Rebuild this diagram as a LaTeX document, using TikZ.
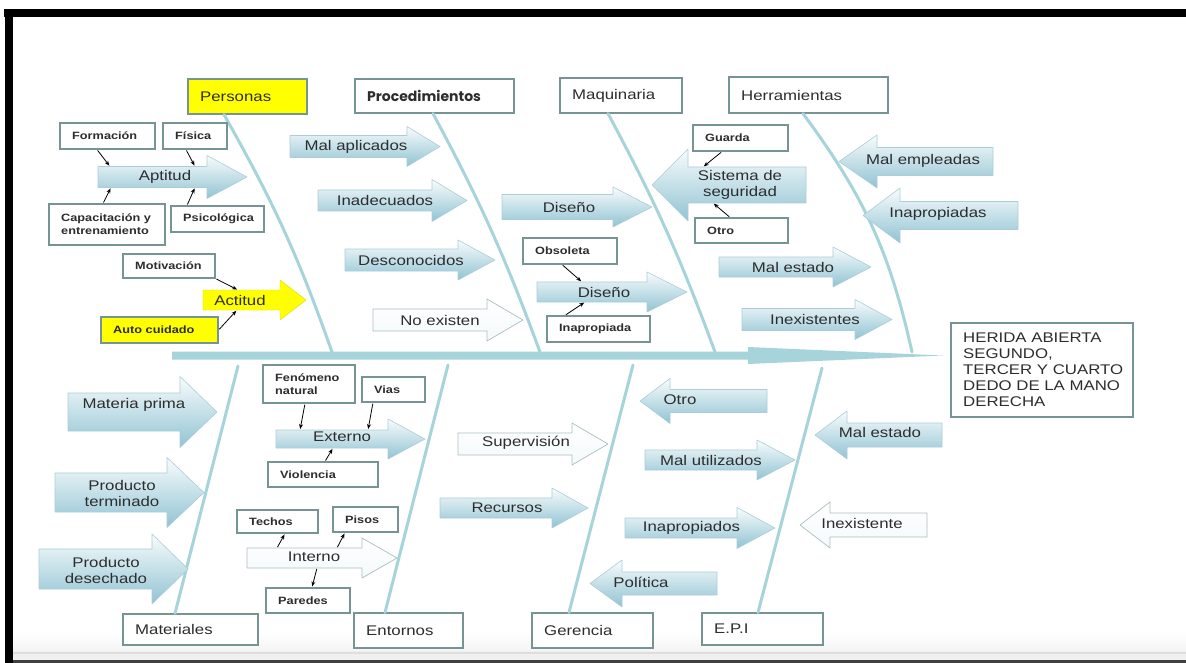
\documentclass[tikz,border=0pt]{standalone}
\usepackage{fontspec}
\setmainfont{Liberation Sans}[FakeStretch=1.2]
\newfontfamily\procfont{Poppins}
\usetikzlibrary{arrows.meta,shadows}

\definecolor{bonecol}{RGB}{166,212,218}
\definecolor{arrtop}{RGB}{248,252,253}
\definecolor{arrbot}{RGB}{145,195,211}
\definecolor{arredge}{RGB}{172,205,214}
\definecolor{boxedge}{RGB}{118,148,148}
\definecolor{txtcol}{RGB}{45,45,45}
\definecolor{hiyellow}{RGB}{255,255,0}

\tikzset{
  boxshape/.style={draw=boxedge, fill=white, line width=1.2pt, inner sep=0pt,
    drop shadow={shadow xshift=1.2pt, shadow yshift=-1.2pt, opacity=.25}},
  yelbox/.style={boxshape, fill=hiyellow},
  shaft/.style={inner sep=0pt, outer sep=0pt},
  blk/.style={top color=arrtop, bottom color=arrbot, draw=arredge, line width=.6pt, line join=round},
  wht/.style={top color=white, bottom color=white!90!arrbot, draw=boxedge!60, line width=.7pt, line join=round},
  yel/.style={fill=hiyellow, draw=hiyellow!85!black, line width=.4pt, line join=round},
  big/.style={font=\fontsize{14}{16}\selectfont, text=txtcol, inner sep=0pt},
  small/.style={font=\fontsize{10.6}{13}\selectfont\bfseries, text=txtcol, inner sep=0pt},
  bone/.style={draw=bonecol, line width=3pt, line cap=round},
  conn/.style={-{Stealth[length=5pt,width=4pt]}, line width=.8pt, draw=black, shorten <=1pt, shorten >=1pt},
}

% block arrow: name, tail x, head base x, tip x, centre y, half shaft, half head
\newcommand\BArrow[8][blk]{%
  \path[#1] (#3,{#6-#7}) -- (#4,{#6-#7}) -- (#4,{#6-#8}) -- (#5,#6) -- (#4,{#6+#8})
     -- (#4,{#6+#7}) -- (#3,{#6+#7}) -- cycle;
  \node[shaft, minimum width={abs(#4-#3)}, minimum height={2*#7}] (#2) at ({(#3+#4)/2},#6) {};
}
% framed box: name, x1, y1, x2, y2, text style, text
\newcommand\TBox[8][boxshape]{%
  \node[#1, minimum width={#5-#3}, minimum height={#6-#4}] (#2) at ({(#3+#5)/2},{(#4+#6)/2}) {};
  \node[#7, align=left, anchor=west] (#2-t) at ({#3+12},{(#4+#6)/2}) {#8};
}

\begin{document}
\begin{tikzpicture}[x=1pt,y=-1pt]
\useasboundingbox (0,0) rectangle (1186,663);
\fill[white] (0,0) rectangle (1186,663);

% window frame
\fill[black] (4,9) rectangle (1186,17);
\fill[black] (5,9) rectangle (13,663);
\shade[top color=white, bottom color=gray!8] (13,632) rectangle (1186,651);
\fill[gray!12] (13,651) rectangle (1186,660);
\fill[gray!26] (13,652) rectangle (1186,654);
\fill[black!75] (13,660) rectangle (1186,663);

% spine
\fill[bonecol] (172,351.5) -- (748,351.5) -- (748,347) -- (943,355.5) -- (748,364)
  -- (748,359.5) -- (172,359.5) -- cycle;
\coordinate (sp1) at (332,352);
\coordinate (sp2) at (540,352);
\coordinate (sp3) at (715,352);
\coordinate (sp4) at (912,352);
\coordinate (sb1) at (238,366);
\coordinate (sb2) at (448,365);
\coordinate (sb3) at (633,365);
\coordinate (sb4) at (822,368);

% category boxes
\TBox[yelbox]{personas}{188}{79}{307}{114}{big}{Personas}
\TBox{procedimientos}{355}{79}{514}{113}{big,font=\procfont\bfseries\fontsize{14}{16}\selectfont}{Procedimientos}
\TBox{maquinaria}{560}{78}{682}{113}{big}{Maquinaria}
\TBox{herramientas}{729}{77}{888}{113}{big}{Herramientas}
\TBox{materiales}{123}{614}{258}{645}{big}{Materiales}
\TBox{entornos}{354}{613}{463}{648}{big}{Entornos}
\TBox{gerencia}{532}{613}{653}{648}{big}{Gerencia}
\TBox{epi}{702}{613}{823}{645}{big}{E.P.I}
\TBox{herida}{951}{323}{1133}{417}{big}{HERIDA ABIERTA\\SEGUNDO,\\TERCER Y CUARTO\\DEDO DE LA MANO\\DERECHA}

% bones
\draw[bone] ([xshift=-23.5pt]personas.south) to[bend left=5] (sp1);
\draw[bone] ([xshift=-1.5pt]procedimientos.south) to[bend left=4] (sp2);
\draw[bone] ([xshift=-13pt]maquinaria.south) to[bend left=4] (sp3);
\draw[bone] ([xshift=-5.5pt]herramientas.south) to[bend left=12] (sp4);
\draw[bone] ([xshift=-15.5pt]materiales.north) -- (sb1);
\draw[bone] ([xshift=-23.5pt]entornos.north) -- (sb2);
\draw[bone] ([xshift=-23.5pt]gerencia.north) -- (sb3);
\draw[bone] ([xshift=-4.5pt]epi.north) -- (sb4);

% block arrows
\BArrow{aptitud}{98}{207}{247}{177}{10.5}{21.5}
\BArrow[yel]{actitud}{203}{280}{306}{300}{10}{20}
\BArrow{malaplicados}{290}{407}{440}{146.5}{11}{20}
\BArrow{inadecuados}{318}{432}{467}{200.5}{10.5}{21}
\BArrow{desconocidos}{345}{458}{495}{260}{11}{20}
\BArrow[wht]{noexisten}{373}{487}{523}{320}{11}{21}
\BArrow{disenoA}{502}{613}{652}{207}{12.5}{20}
\BArrow{disenoB}{537}{647}{687}{292}{10}{20}
\BArrow{sistema}{806}{688}{652}{185}{18}{36}
\BArrow{malestadoA}{719}{833}{871}{267}{10}{20}
\BArrow{inexistentes}{742}{855}{892}{319.5}{11}{20}
\BArrow{malempleadas}{993}{877}{839}{161.5}{14}{26.5}
\BArrow{inapropiadas}{1018}{900}{863}{215.5}{14}{27.5}
\BArrow{materiaprima}{68}{180}{217}{412}{19}{35.5}
\BArrow{prodterminado}{55}{167}{204}{492.5}{19.5}{35}
\BArrow{proddesechado}{39}{152}{188}{569}{20}{35}
\BArrow{externo}{276}{388}{425}{439}{9}{20}
\BArrow[wht]{interno}{247}{362}{397}{558}{10}{20}
\BArrow[wht]{supervision}{458}{572}{608}{444}{11}{21}
\BArrow{recursos}{440}{552}{588}{508}{10}{20}
\BArrow{otroB}{767}{670}{640}{401}{11.5}{22.5}
\BArrow{malutilizados}{645}{757}{795}{460}{10}{20}
\BArrow{inapropiados}{625}{737}{775}{528}{10}{20.5}
\BArrow{politica}{717}{622}{590}{583.5}{11.5}{23.5}
\BArrow{malestadoB}{942}{847}{815}{435}{12}{24}
\BArrow[wht]{inexistente}{927}{830}{800}{525}{12}{23}

% arrow labels
\node[big] (aptitud-t) at (165,177) {Aptitud};
\node[big] (actitud-t) at (240,300) {Actitud};
\node[big] (malaplicados-t) at (356,146.5) {Mal aplicados};
\node[big] (inadecuados-t) at (385,200) {Inadecuados};
\node[big] (desconocidos-t) at (411,260) {Desconocidos};
\node[big] (noexisten-t) at (440,320) {No existen};
\node[big] (disenoA-t) at (569,207) {Diseño};
\node[big] (disenoB-t) at (604,292) {Diseño};
\node[big, align=center] (sistema-t) at (740,185) {Sistema de\\seguridad};
\node[big] (malestadoA-t) at (793,267) {Mal estado};
\node[big] (inexistentes-t) at (815,319) {Inexistentes};
\node[big] (malempleadas-t) at (923,161) {Mal empleadas};
\node[big] (inapropiadas-t) at (938,214) {Inapropiadas};
\node[big] (materiaprima-t) at (134,405) {Materia prima};
\node[big, align=center] (prodterminado-t) at (122,493) {Producto\\terminado};
\node[big, align=center] (proddesechado-t) at (106,570) {Producto\\desechado};
\node[big] (externo-t) at (342,437) {Externo};
\node[big] (interno-t) at (314,557) {Interno};
\node[big] (supervision-t) at (526,443) {Supervisión};
\node[big] (recursos-t) at (507,508) {Recursos};
\node[big] (otroB-t) at (680,400) {Otro};
\node[big] (malutilizados-t) at (711,460) {Mal utilizados};
\node[big] (inapropiados-t) at (691.5,528) {Inapropiados};
\node[big] (politica-t) at (641,582) {Política};
\node[big] (malestadoB-t) at (880,432) {Mal estado};
\node[big] (inexistente-t) at (862,523) {Inexistente};

% sub-cause boxes
\TBox{formacion}{60}{123}{155}{149}{small}{Formación}
\TBox{fisica}{163}{123}{227}{149}{small}{Física}
\TBox{capacitacion}{49}{204}{165}{245}{small}{Capacitación y\\entrenamiento}
\TBox{psicologica}{171}{206}{264}{232}{small}{Psicológica}
\TBox{motivacion}{123}{254}{215}{278}{small}{Motivación}
\TBox[yelbox]{autocuidado}{101}{317}{218}{343}{small}{Auto cuidado}
\TBox{guarda}{693}{125}{788}{151}{small}{Guarda}
\TBox{otroA}{695}{218}{788}{243}{small}{Otro}
\TBox{obsoleta}{523}{238}{617}{264}{small}{Obsoleta}
\TBox{inapropiada}{547}{316}{650}{342}{small}{Inapropiada}
\TBox{fenomeno}{263}{365}{355}{403}{small}{Fenómeno\\natural}
\TBox{vias}{362}{377}{425}{402}{small}{Vias}
\TBox{violencia}{268}{462}{378}{487}{small}{Violencia}
\TBox{techos}{237}{510}{318}{533}{small}{Techos}
\TBox{pisos}{333}{507}{398}{532}{small}{Pisos}
\TBox{paredes}{266}{588}{350}{613}{small}{Paredes}

% small connectors
\draw[conn] ([xshift=-10.5pt]formacion.south) -- ([xshift=-42.5pt]aptitud.north);
\draw[conn] ([xshift=-9pt]fisica.south) -- ([xshift=42.5pt]aptitud.north);
\draw[conn] ([xshift=-4pt]capacitacion.north) -- ([xshift=-41.5pt]aptitud.south);
\draw[conn] ([xshift=-30.5pt]psicologica.north) -- ([xshift=42.5pt]aptitud.south);
\draw[conn] (motivacion.south east) -- ([xshift=-3.5pt]actitud.north);
\draw[conn] (autocuidado.east) -- ([xshift=-4.5pt]actitud.south);
\draw[conn] ([xshift=-18.5pt]guarda.south) -- ([xshift=-44pt]sistema.north);
\draw[conn] ([xshift=-11.5pt]otroA.north) -- ([xshift=-34pt]sistema.south);
\draw[conn] ([xshift=-8pt]obsoleta.south) -- ([xshift=-10pt]disenoB.north);
\draw[conn] ([xshift=-33.5pt]inapropiada.north) -- ([xshift=-7pt]disenoB.south);
\draw[conn] ([xshift=-4pt]fenomeno.south) -- ([xshift=-32pt]externo.north);
\draw[conn] ([xshift=-20.5pt]vias.south) -- ([xshift=36pt]externo.north);
\draw[conn] ([xshift=2pt]violencia.north) -- ([xshift=1pt]externo.south);
\draw[conn] ([xshift=-27.5pt]interno.north) -- ([xshift=7.5pt]techos.south);
\draw[conn] ([xshift=32.5pt]interno.north) -- ([xshift=-20.5pt]pisos.south);
\draw[conn] ([xshift=12.5pt]interno.south) -- ([xshift=4pt]paredes.north);
\end{tikzpicture}
\end{document}
